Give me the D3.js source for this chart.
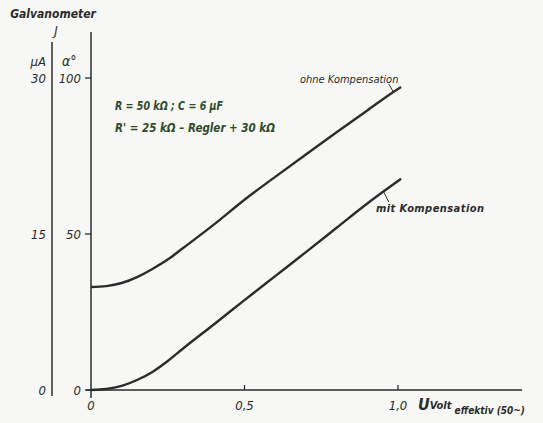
<!DOCTYPE html>
<html>
<head>
<meta charset="utf-8">
<script src="https://cdn.jsdelivr.net/npm/d3@7"></script>
<style>
	body { margin: 0; background: #f7f7f5; }
	text { font-family: "Liberation Sans Narrow", "DejaVu Sans Condensed", sans-serif; font-style: italic; fill: #2b2b2b; }
</style>
</head>
<body>
<div id="chart"></div>
<script>
// U (Volt effektiv) sample points
var volts = [0, 0.05, 0.1, 0.15, 0.2, 0.25, 0.3, 0.4, 0.5, 0.6, 0.7, 0.8, 0.9, 1.0, 1.01];
// galvanometer deflection alpha (degrees)
var ohneKomp = [33, 33.3, 34.3, 36.2, 38.8, 41.8, 45.5, 53, 61, 68.3, 75.5, 82.6, 89.6, 96.5, 97.1];
var mitKomp = [0, 0.3, 1.3, 3.2, 5.8, 9.3, 13.3, 21, 28.8, 36.5, 44.2, 52, 59.8, 67, 67.7];

var xTicks = [0, 0.5, 1.0];
var xTickLabels = ['0', '0,5', '1,0'];
var alphaTicks = [0, 50, 100];
var microAmpTicks = [0, 15, 30];

var width = 543;
var height = 423;

var x = d3.scaleLinear().domain([0, 1]).range([91, 398]);
var y = d3.scaleLinear().domain([0, 100]).range([390, 78]);
// second scale: 30 uA matches 100 deg
var yA = d3.scaleLinear().domain([0, 30]).range([390, 78]);

var svg = d3.select('#chart')
	.append('svg')
	.attr('width', width)
	.attr('height', height);

svg.append('rect').attr('width', width).attr('height', height).attr('fill', '#f7f7f5');

var ink = '#2b2b2b';

// x axis line
svg.append('line')
	.attr('x1', 86).attr('x2', 522)
	.attr('y1', y(0)).attr('y2', y(0))
	.attr('stroke', ink).attr('stroke-width', 1.5);

// x ticks (small, upward)
svg.selectAll('.xtick')
	.data(xTicks.slice(1))
	.enter()
	.append('line')
	.attr('x1', function(d){ return x(d); })
	.attr('x2', function(d){ return x(d); })
	.attr('y1', y(0)).attr('y2', y(0) - 5)
	.attr('stroke', ink).attr('stroke-width', 1.3);

svg.selectAll('.xlabel')
	.data(xTicks)
	.enter()
	.append('text')
	.attr('x', function(d){ return x(d); })
	.attr('y', y(0) + 20)
	.attr('text-anchor', 'middle')
	.attr('font-size', 13)
	.text(function(d, i){ return xTickLabels[i]; });

// x axis title
var xt = svg.append('text').attr('x', 418).attr('y', 410).attr('font-weight', 'bold');
xt.append('tspan').attr('font-size', 16).text('U');
xt.append('tspan').attr('font-size', 11).attr('dy', -1).text('Volt');
xt.append('tspan').attr('font-size', 10).attr('dy', 5).text(' effektiv (50~)');

// alpha axis
svg.append('line')
	.attr('x1', x(0)).attr('x2', x(0))
	.attr('y1', 32).attr('y2', 398)
	.attr('stroke', ink).attr('stroke-width', 1.5);

svg.selectAll('.atick')
	.data(alphaTicks)
	.enter()
	.append('line')
	.attr('x1', x(0) - 6).attr('x2', x(0))
	.attr('y1', function(d){ return y(d); })
	.attr('y2', function(d){ return y(d); })
	.attr('stroke', ink).attr('stroke-width', 1.3);

svg.selectAll('.alabel')
	.data(alphaTicks)
	.enter()
	.append('text')
	.attr('x', 81)
	.attr('y', function(d){ return y(d) + 5; })
	.attr('text-anchor', 'end')
	.attr('font-size', 13)
	.text(function(d){ return d; });

// microampere axis
svg.append('line')
	.attr('x1', 52).attr('x2', 52)
	.attr('y1', 42).attr('y2', 396)
	.attr('stroke', ink).attr('stroke-width', 1.5);

svg.selectAll('.ulabel')
	.data(microAmpTicks)
	.enter()
	.append('text')
	.attr('x', 46)
	.attr('y', function(d){ return yA(d) + 5; })
	.attr('text-anchor', 'end')
	.attr('font-size', 13)
	.text(function(d){ return d; });

// header labels
svg.append('text').attr('x', 53).attr('y', 18).attr('text-anchor', 'middle')
	.attr('font-size', 12).attr('font-weight', 'bold').text('Galvanometer');
svg.append('text').attr('x', 56).attr('y', 35).attr('text-anchor', 'middle')
	.attr('font-size', 13).text('J');
svg.append('text').attr('x', 46).attr('y', 66).attr('text-anchor', 'end')
	.attr('font-size', 13).text('µA');
svg.append('text').attr('x', 62).attr('y', 66)
	.attr('font-size', 14).text('α°');

// curves
var line = d3.line()
	.x(function(d){ return x(d[0]); })
	.y(function(d){ return y(d[1]); })
	.curve(d3.curveMonotoneX);

[ohneKomp, mitKomp].forEach(function(series){
	svg.append('path')
		.datum(volts.map(function(v, i){ return [v, series[i]]; }))
		.attr('d', line)
		.attr('fill', 'none')
		.attr('stroke', ink)
		.attr('stroke-width', 2.4);
});

// curve labels with small leader strokes
svg.append('text').attr('x', 300).attr('y', 83).attr('font-size', 11)
	.text('ohne Kompensation');
svg.append('line')
	.attr('x1', x(0.985)).attr('y1', y(ohneKomp[12] + (ohneKomp[13] - ohneKomp[12]) * 0.85))
	.attr('x2', x(0.97)).attr('y2', 84)
	.attr('stroke', ink).attr('stroke-width', 1);

svg.append('text').attr('x', 376).attr('y', 212).attr('font-size', 11).attr('font-weight', 'bold')
	.attr('textLength', 108)
	.text('mit Kompensation');
svg.append('line')
	.attr('x1', x(0.953)).attr('y1', y(mitKomp[12] + (mitKomp[13] - mitKomp[12]) * 0.53))
	.attr('x2', x(0.97)).attr('y2', 202)
	.attr('stroke', ink).attr('stroke-width', 1);

// circuit values
svg.append('text').attr('x', 115).attr('y', 110).attr('font-size', 13)
	.style('fill', '#2f4a2c').attr('font-weight', 'bold')
	.attr('textLength', 108).attr('lengthAdjust', 'spacingAndGlyphs')
	.text('R = 50 kΩ ; C = 6 µF');
svg.append('text').attr('x', 115).attr('y', 132).attr('font-size', 13)
	.style('fill', '#2f4a2c').attr('font-weight', 'bold')
	.attr('textLength', 160).attr('lengthAdjust', 'spacingAndGlyphs')
	.text("R' = 25 kΩ – Regler + 30 kΩ");
</script>
</body>
</html>
